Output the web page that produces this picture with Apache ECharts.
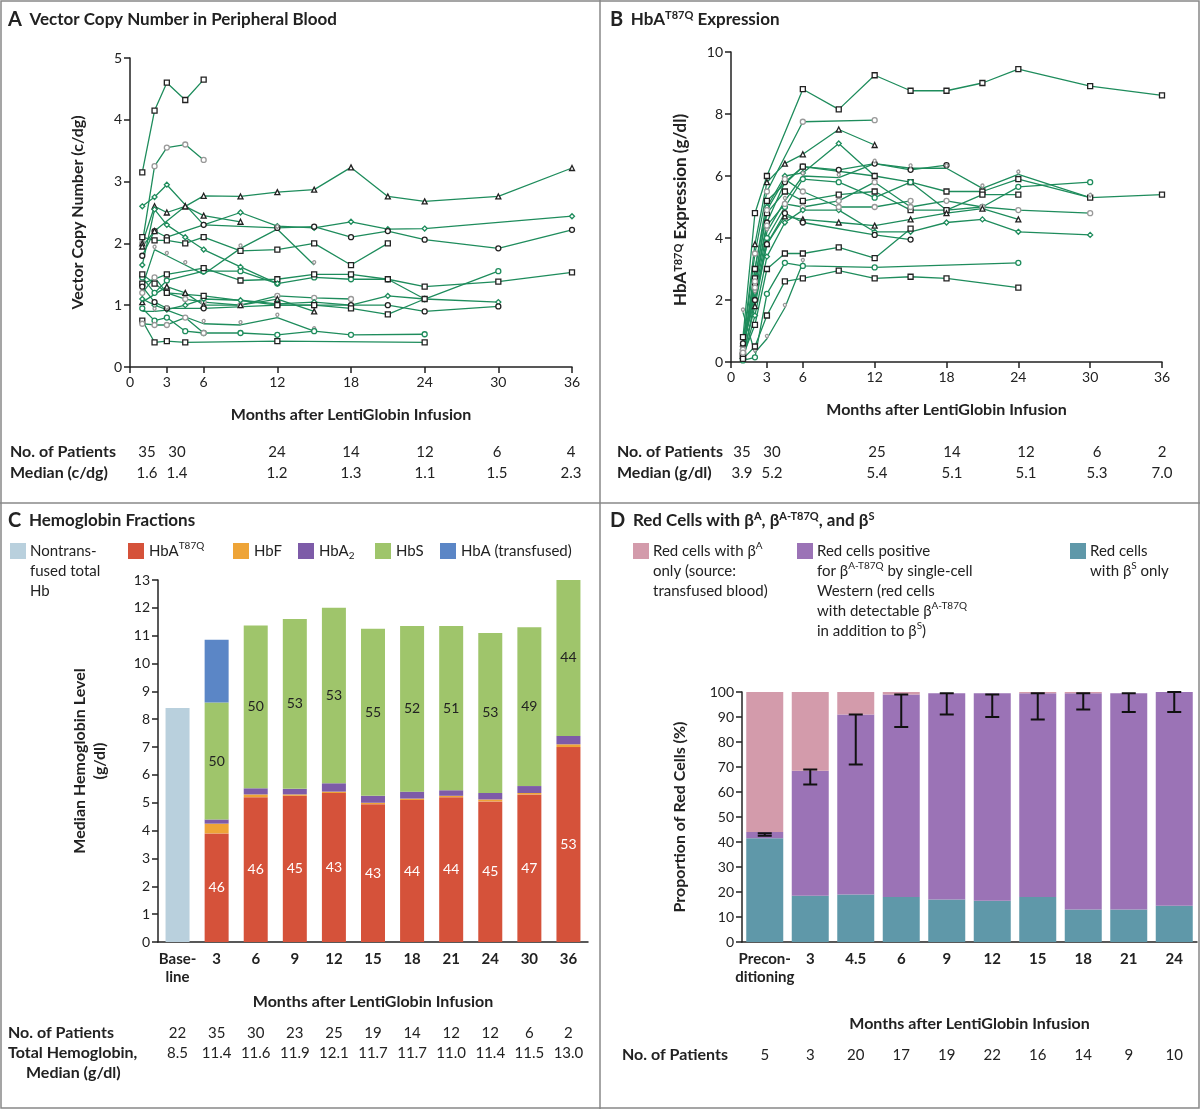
<!DOCTYPE html>
<html><head><meta charset="utf-8">
<script src="https://cdn.jsdelivr.net/npm/echarts@6/dist/echarts.min.js"></script>
<style>html,body{margin:0;padding:0;background:#fff}#c{width:1200px;height:1109px}</style>
</head><body><div id="c"></div>
<script>
// ---- Panel A: vector copy number (month, c/dg) per patient
var vcnA = [
  [[1,3.15],[2,4.15],[3,4.6],[4.5,4.32],[6,4.65]],
  [[1,2.0],[2,3.25],[3,3.55],[4.5,3.6],[6,3.35]],
  [[1,2.0],[2,2.6],[3,2.5],[4.5,2.6],[6,2.77],[9,2.76],[12,2.83],[15,2.87],[18,3.23],[21,2.76],[24,2.68],[30,2.76],[36,3.22]],
  [[1,2.6],[2,2.75],[3,2.95],[6,2.3],[9,2.5],[12,2.28],[15,2.25],[18,2.35],[21,2.23],[24,2.24],[36,2.44]],
  [[1,1.8],[2,2.2],[3,2.1],[6,2.3],[12,2.25],[15,2.27],[18,2.1],[21,2.2],[24,2.06],[30,1.92],[36,2.22]],
  [[1,2.1],[2,2.05],[3,2.05],[4.5,2.0],[6,2.1],[9,1.88],[12,1.9],[15,2.0],[18,1.65],[21,2.0]],
  [[1,1.3],[2,1.9],[3,1.8],[4.5,1.65],[6,1.5],[9,1.92],[12,2.23],[15,1.65]],
  [[1,1.45],[2,1.2],[3,1.4],[6,1.55],[9,1.55],[12,1.35],[15,1.45],[18,1.42],[21,1.42],[24,1.1],[30,1.55]],
  [[1,1.35],[3,1.5],[6,1.6],[9,1.4],[12,1.42],[15,1.5],[18,1.5],[21,1.42],[24,1.3],[30,1.38],[36,1.53]],
  [[1,1.2],[2,1.45],[3,1.2],[4.5,1.1],[6,1.05],[9,1.0],[12,1.15],[15,1.12],[18,1.1]],
  [[1,1.05],[3,1.3],[4.5,1.2],[6,1.0],[9,1.0],[12,1.1],[15,0.9]],
  [[1,1.1],[2,1.0],[3,0.93],[4.5,1.0],[6,1.1],[9,1.08],[12,1.02],[15,1.05],[18,1.0],[21,1.15],[24,1.1],[30,1.05]],
  [[1,1.3],[2,1.05],[3,0.95],[6,0.95],[12,1.0],[15,1.0],[18,1.0],[21,1.0],[24,0.9],[30,0.98]],
  [[1,1.5],[2,1.35],[3,1.2],[6,1.15],[12,1.0],[15,1.0],[18,0.95],[21,0.85],[24,1.1]],
  [[1,0.9],[2,0.9],[3,0.92],[6,0.7],[9,0.68],[12,0.8],[15,0.58]],
  [[1,0.95],[2,0.75],[3,0.8],[4.5,0.58],[6,0.55],[9,0.55],[12,0.52],[15,0.58],[18,0.52],[24,0.53]],
  [[1,0.75],[2,0.4],[3,0.42],[4.5,0.4],[12,0.42],[24,0.4]],
  [[1,0.7],[2,0.68],[3,0.68],[4.5,0.8],[6,0.55]],
  [[1,1.95],[2,2.2],[4.5,2.6],[6,2.45],[9,2.35]],
  [[1,1.65],[2,2.55],[3,2.3],[4.5,2.1],[6,1.9],[9,1.62],[12,1.35]]
];
// ---- Panel B: HbA T87Q (month, g/dl) per patient
var hbB = [
  [[1,0.8],[2,4.8],[3,6.0],[6,8.8],[9,8.15],[12,9.25],[15,8.75],[18,8.75],[21,9.0],[24,9.45],[30,8.9],[36,8.6]],
  [[1,0.5],[2,3.5],[3,5.5],[6,7.75],[12,7.8]],
  [[1,0.6],[2,3.8],[3,5.8],[4.5,6.4],[6,6.7],[9,7.5],[12,7.0]],
  [[1,0.4],[2,3.0],[3,5.0],[4.5,6.0],[6,6.1],[9,7.05],[12,6.0]],
  [[1,0.3],[2,2.5],[3,4.5],[4.5,5.8],[6,6.3],[9,6.2],[12,6.4],[15,6.2],[18,6.35]],
  [[1,0.2],[2,3.0],[3,5.2],[6,6.3],[12,6.0],[15,5.8],[18,5.5],[21,5.5],[24,5.9],[30,5.3],[36,5.4]],
  [[1,0.5],[2,2.2],[3,4.2],[4.5,5.2],[6,6.0],[9,5.95],[12,6.4],[15,6.25],[18,6.25],[21,5.6],[24,6.05],[30,5.3]],
  [[1,0.1],[2,2.0],[3,4.0],[4.5,5.0],[6,5.9],[9,5.8],[12,5.3],[15,5.8],[18,4.9],[21,5.0],[24,5.65],[30,5.8]],
  [[1,0.3],[2,2.7],[3,4.8],[4.5,5.5],[6,5.2],[9,5.4],[12,5.5],[15,4.9],[18,4.9],[21,5.4],[24,5.4]],
  [[1,0.4],[2,2.4],[3,4.4],[4.5,5.1],[6,5.0],[9,5.2],[12,5.8],[15,5.0],[18,5.2],[21,5.0],[24,4.9],[30,4.8]],
  [[1,0.2],[2,1.8],[3,3.8],[4.5,4.7],[6,4.6],[9,4.5],[12,4.4],[15,4.6],[18,4.8],[21,4.95],[24,4.6]],
  [[1,0.1],[2,1.5],[3,3.4],[4.5,4.5],[6,4.9],[9,4.9],[12,4.2],[15,4.2],[18,4.5],[21,4.6],[24,4.2],[30,4.1]],
  [[1,0.6],[2,2.0],[3,3.8],[4.5,4.8],[6,4.5],[12,4.1],[15,3.95]],
  [[1,0.2],[2,1.2],[3,3.0],[4.5,3.5],[6,3.5],[9,3.7],[12,3.35],[15,4.3]],
  [[1,1.6],[2,0.3],[3,0.75],[4.5,1.75],[6,3.2]],
  [[1,0.05],[2,0.15],[3,2.2],[4.5,3.2],[6,3.1],[12,3.05],[24,3.2]],
  [[1,0.1],[2,0.5],[3,1.5],[4.5,2.6],[6,2.7],[9,2.95],[12,2.7],[15,2.75],[18,2.7],[24,2.4]],
  [[1,0.3],[2,2.6],[3,4.9],[4.5,5.9],[6,5.5],[9,5.0],[12,5.0],[15,5.2]]
];
var monthTicks = [0,3,6,12,18,24,30,36];
var patientsA = ['35','30','24','14','12','6','4'];
var medianA = ['1.6','1.4','1.2','1.3','1.1','1.5','2.3'];
var patientsB = ['35','30','25','14','12','6','2'];
var medianB = ['3.9','5.2','5.4','5.1','5.1','5.3','7.0'];

// ---- Panel C: hemoglobin fractions (g/dl)
var catsC = ['Base-\nline','3','6','9','12','15','18','21','24','30','36'];
var nonTransfused = [8.4,null,null,null,null,null,null,null,null,null,null];
var hbT87Q = [null,3.9,5.2,5.25,5.35,4.95,5.1,5.2,5.05,5.3,7.0];
var hbF = [null,0.35,0.1,0.05,0.05,0.05,0.05,0.05,0.07,0.05,0.1];
var hbA2 = [null,0.15,0.22,0.2,0.3,0.25,0.25,0.2,0.23,0.25,0.3];
var hbS = [null,4.2,5.85,6.1,6.3,6.0,5.95,5.9,5.75,5.7,5.6];
var hbATrans = [null,2.25,null,null,null,null,null,null,null,null,null];
var pctT87Q = ['', '46','46','45','43','43','44','44','45','47','53'];
var pctS = ['', '50','50','53','53','55','52','51','53','49','44'];
var patientsC = ['22','35','30','23','25','19','14','12','12','6','2'];
var totalHbC = ['8.5','11.4','11.6','11.9','12.1','11.7','11.7','11.0','11.4','11.5','13.0'];

// ---- Panel D: red cell proportions (%)
var catsD = ['Precon-\nditioning','3','4.5','6','9','12','15','18','21','24'];
var betaSOnly = [41.5,18.5,19,18,17,16.5,18,13,13,14.5];
var betaT87Qpos = [2.5,50,72,81,82.5,83,81.5,86.5,86.5,85.5];
var betaAOnly = [56,31.5,9,1.5,0,0,0.5,0.5,0,0];
var errLow = [42.5,63,71,86,91,90,89,93,92,92];
var errHigh = [43.5,69,91,99,99.5,99,99.5,99.5,99.5,100];
var patientsD = ['5','3','20','17','19','22','16','14','9','10'];

var FONT = 'Lato';
var GREEN = '#1e8c5c';
var symbols = ['rect','circle','triangle','diamond','circle','rect','pin','circle'];
var markColors = ['#222','#999','#222',GREEN,'#222','#222','#999',GREEN];

function lineSeries(list, axis) {
  return list.map(function (d, i) {
    return {
      type: 'line', xAxisIndex: axis, yAxisIndex: axis, data: d,
      symbol: symbols[i % symbols.length], symbolSize: 5,
      lineStyle: {color: GREEN, width: 1.3},
      itemStyle: {color: '#fff', borderColor: markColors[i % markColors.length], borderWidth: 1.3},
      z: 3
    };
  });
}

var axisLineStyle = {lineStyle: {color: '#222', width: 1.5}};
function valX(grid) {
  return {type: 'value', gridIndex: grid, min: 0, max: 36, axisLine: axisLineStyle,
    axisTick: {show: true, customValues: monthTicks, length: 6, lineStyle: {color: '#222', width: 1.5}},
    axisLabel: {customValues: monthTicks, fontFamily: FONT, fontSize: 14, color: '#222'},
    splitLine: {show: false},
    name: 'Months after LentiGlobin Infusion', nameLocation: 'middle', nameGap: 40,
    nameTextStyle: {fontFamily: FONT, fontSize: 16, fontWeight: 'bold', color: '#222'}};
}
function valY(grid, max, name, gap) {
  return {type: 'value', gridIndex: grid, min: 0, max: max, interval: 1, axisLine: {show: true, lineStyle: {color: '#222', width: 1.5}},
    axisTick: {show: true, length: 6, lineStyle: {color: '#222', width: 1.5}},
    axisLabel: {fontFamily: FONT, fontSize: 14, color: '#222'}, splitLine: {show: false},
    name: name, nameLocation: 'middle', nameGap: gap, nameRotate: 90,
    nameTextStyle: {fontFamily: FONT, fontSize: 16, fontWeight: 'bold', color: '#222', lineHeight: 20}};
}
function catX(grid, cats) {
  return {type: 'category', gridIndex: grid, data: cats, axisLine: axisLineStyle,
    axisTick: {show: false},
    axisLabel: {fontFamily: FONT, fontSize: 15, color: '#222', fontWeight: 'bold', lineHeight: 18, interval: 0}};
}

var yA = valY(0, 5, 'Vector Copy Number (c/dg)', 42);
var yB = valY(1, 10, '', 40); yB.interval = 2;
var yC = valY(2, 13, 'Median Hemoglobin Level\n(g/dl)', 48);
var yD = valY(3, 100, 'Proportion of Red Cells (%)', 52); yD.interval = 10;

var series = lineSeries(vcnA, 0).concat(lineSeries(hbB, 1));
function barS(data, color, axis, extra) {
  var s = {type: 'bar', xAxisIndex: axis, yAxisIndex: axis, data: data, stack: 's' + axis,
    itemStyle: {color: color}, barWidth: axis === 2 ? 24 : 37};
  for (var k in extra) s[k] = extra[k];
  return s;
}
series.push(barS(nonTransfused, '#b9d0dd', 2, {}));
series.push(barS(hbT87Q, '#d5523a', 2, {label: {show: true, position: 'inside', color: '#fff', fontFamily: FONT, fontSize: 14,
  formatter: function (p) { return pctT87Q[p.dataIndex]; }}}));
series.push(barS(hbF, '#eea437', 2, {}));
series.push(barS(hbA2, '#7d5ba8', 2, {}));
series.push(barS(hbS, '#9fc56b', 2, {label: {show: true, position: 'inside', color: '#222', fontFamily: FONT, fontSize: 14,
  formatter: function (p) { return pctS[p.dataIndex]; }}}));
series.push(barS(hbATrans, '#5b86c6', 2, {}));

series.push(barS(betaSOnly, '#5f98a9', 3, {}));
series.push(barS(betaT87Qpos, '#9b73b6', 3, {}));
series.push(barS(betaAOnly, '#d39bab', 3, {}));
series.push({type: 'custom', xAxisIndex: 3, yAxisIndex: 3, z: 10,
  data: errLow.map(function (v, i) { return [i, v, errHigh[i]]; }),
  renderItem: function (params, api) {
    var lo = api.coord([api.value(0), api.value(1)]);
    var hi = api.coord([api.value(0), api.value(2)]);
    var w = 7;
    var st = {stroke: '#111', lineWidth: 2};
    return {type: 'group', children: [
      {type: 'line', shape: {x1: lo[0], y1: lo[1], x2: hi[0], y2: hi[1]}, style: st},
      {type: 'line', shape: {x1: lo[0] - w, y1: lo[1], x2: lo[0] + w, y2: lo[1]}, style: st},
      {type: 'line', shape: {x1: hi[0] - w, y1: hi[1], x2: hi[0] + w, y2: hi[1]}, style: st}
    ]};
  }});

var chart = echarts.init(document.getElementById('c'), null, {renderer: 'canvas'});
var xC = catX(2, catsC); xC.name = 'Months after LentiGlobin Infusion'; xC.nameLocation = 'middle'; xC.nameGap = 52;
xC.nameTextStyle = {fontFamily: FONT, fontSize: 16, fontWeight: 'bold', color: '#222'};
var xD = catX(3, catsD); xD.name = 'Months after LentiGlobin Infusion'; xD.nameLocation = 'middle'; xD.nameGap = 74;
xD.nameTextStyle = {fontFamily: FONT, fontSize: 16, fontWeight: 'bold', color: '#222'};

chart.setOption({
  animation: false,
  textStyle: {fontFamily: FONT},
  grid: [
    {left: 130, top: 58, width: 442, height: 309},
    {left: 731, top: 52, width: 431, height: 310},
    {left: 158, top: 580, width: 430, height: 362},
    {left: 742, top: 692, width: 455, height: 250}
  ],
  xAxis: [valX(0), valX(1), xC, xD],
  yAxis: [yA, yB, yC, yD],
  series: series
});

// ---- texts, legends, tables, frame
var g = [];
function txt(x, y, t, o) {
  var s = {text: t, fill: '#222', font: (o && o.font) || ('15px ' + FONT), align: (o && o.align) || 'left', verticalAlign: (o && o.va) || 'middle'};
  if (o && o.rich) s.rich = o.rich;
  if (o && o.lineHeight) s.lineHeight = o.lineHeight;
  g.push({type: 'text', x: x, y: y, style: s, z: 20});
}
var boldF = 'bold 16px ' + FONT;
var supRich = {
  n: {fontFamily: FONT, fontSize: 17, fontWeight: 'bold', fill: '#222'},
  s: {fontFamily: FONT, fontSize: 11, fontWeight: 'bold', fill: '#222', verticalAlign: 'top', lineHeight: 10},
  L: {fontFamily: FONT, fontSize: 20, fontWeight: 'bold', fill: '#222'}
};
txt(8, 20, '{L|A}  {n|Vector Copy Number in Peripheral Blood}', {rich: supRich});
txt(610, 20, '{L|B}  {n|HbA}{s|T87Q}{n| Expression}', {rich: supRich});
txt(8, 521, '{L|C}  {n|Hemoglobin Fractions}', {rich: supRich});
txt(610, 521, '{L|D}  {n|Red Cells with β}{s|A}{n|, β}{s|A-T87Q}{n|, and β}{s|S}', {rich: supRich});
// panel B y axis name with superscript
g.push({type: 'text', x: 681, y: 210, rotation: Math.PI / 2, style: {text: '{n|HbA}{s|T87Q}{n| Expression (g/dl)}', rich: supRich, align: 'center', verticalAlign: 'middle'}, z: 20});

// tables A and B
var colA = [147, 177, 277, 351, 425, 497, 571];
var colB = [742, 772, 877, 952, 1026, 1097, 1162];
txt(10, 452, 'No. of Patients', {font: boldF});
txt(10, 473, 'Median (c/dg)', {font: boldF});
txt(617, 452, 'No. of Patients', {font: boldF});
txt(617, 473, 'Median (g/dl)', {font: boldF});
colA.forEach(function (x, i) { txt(x, 452, patientsA[i], {align: 'center'}); txt(x, 473, medianA[i], {align: 'center'}); });
colB.forEach(function (x, i) { txt(x, 452, patientsB[i], {align: 'center'}); txt(x, 473, medianB[i], {align: 'center'}); });

// table C
txt(8, 1033, 'No. of Patients', {font: boldF});
txt(8, 1053, 'Total Hemoglobin,', {font: boldF});
txt(26, 1073, 'Median (g/dl)', {font: boldF});
catsC.forEach(function (c, i) {
  var x = chart.convertToPixel({xAxisIndex: 2}, i);
  txt(x, 1033, patientsC[i], {align: 'center'});
  txt(x, 1053, totalHbC[i], {align: 'center'});
});
// table D
txt(622, 1055, 'No. of Patients', {font: boldF});
catsD.forEach(function (c, i) {
  var x = chart.convertToPixel({xAxisIndex: 3}, i);
  txt(x, 1055, patientsD[i], {align: 'center'});
});

// legend C
function sw(x, y, w, h, c) { g.push({type: 'rect', shape: {x: x, y: y, width: w, height: h}, style: {fill: c}, z: 20}); }
var legRich = {
  n: {fontFamily: FONT, fontSize: 15, fill: '#222', lineHeight: 20},
  s: {fontFamily: FONT, fontSize: 10, fill: '#222', verticalAlign: 'top', lineHeight: 10},
  b: {fontFamily: FONT, fontSize: 10, fill: '#222', verticalAlign: 'bottom', lineHeight: 10}
};
sw(10, 543, 16, 16, '#b9d0dd'); txt(30, 541, 'Nontrans-\nfused total\nHb', {font: '15px ' + FONT, lineHeight: 20, va: 'top'});
sw(128, 543, 16, 16, '#d5523a'); txt(149, 551, '{n|HbA}{s|T87Q}', {rich: legRich});
sw(233, 543, 16, 16, '#eea437'); txt(254, 551, 'HbF');
sw(298, 543, 16, 16, '#7d5ba8'); txt(319, 551, '{n|HbA}{b|2}', {rich: legRich});
sw(375, 543, 16, 16, '#9fc56b'); txt(396, 551, 'HbS');
sw(440, 543, 16, 16, '#5b86c6'); txt(461, 551, 'HbA (transfused)');

// legend D
sw(633, 543, 16, 16, '#d39bab');
g.push({type: 'text', x: 653, y: 541, style: {text: '{n|Red cells with β}{s|A}\n{n|only (source:}\n{n|transfused blood)}', rich: legRich, verticalAlign: 'top'}, z: 20});
sw(797, 543, 16, 16, '#9b73b6');
g.push({type: 'text', x: 817, y: 541, style: {text: '{n|Red cells positive}\n{n|for β}{s|A-T87Q}{n| by single-cell}\n{n|Western (red cells}\n{n|with detectable β}{s|A-T87Q}\n{n|in addition to β}{s|S}{n|)}', rich: legRich, verticalAlign: 'top'}, z: 20});
sw(1070, 543, 16, 16, '#5f98a9');
g.push({type: 'text', x: 1090, y: 541, style: {text: '{n|Red cells}\n{n|with β}{s|S}{n| only}', rich: legRich, verticalAlign: 'top'}, z: 20});

// frame
var fr = {stroke: '#888', lineWidth: 1.5};
g.push({type: 'rect', shape: {x: 1, y: 1, width: 1198, height: 1107}, style: {fill: null, stroke: '#888', lineWidth: 1.5}, z: 1});
g.push({type: 'line', shape: {x1: 600, y1: 0, x2: 600, y2: 1109}, style: fr, z: 1});
g.push({type: 'line', shape: {x1: 0, y1: 503, x2: 1200, y2: 503}, style: fr, z: 1});

chart.setOption({graphic: g});
</script></body></html>
